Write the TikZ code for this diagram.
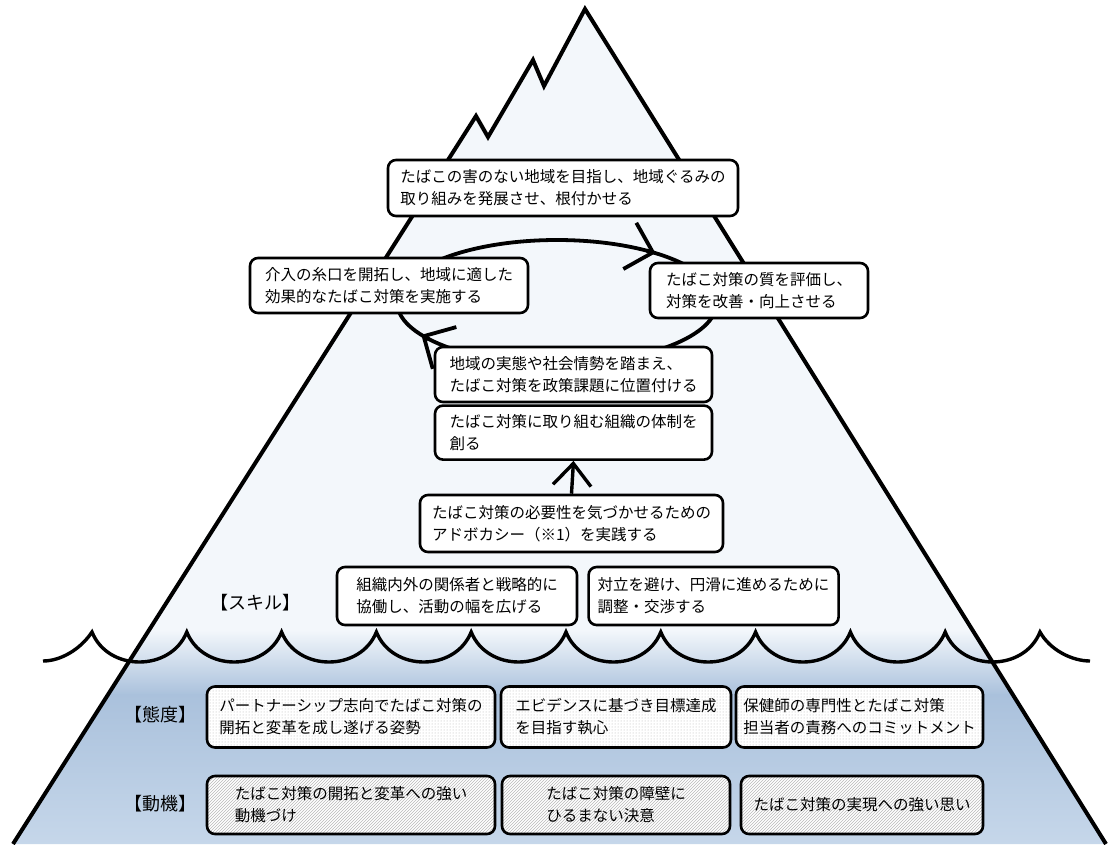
\documentclass[tikz,border=0pt]{standalone}
\usepackage{fontspec}
\newfontfamily\jp{Noto Sans CJK JP}
\usetikzlibrary{positioning,arrows.meta,calc,patterns}

\definecolor{icetop}{HTML}{F3F7FB}
\definecolor{seadeep}{HTML}{AAC1DC}
\definecolor{seabed}{HTML}{C6D7EA}

\begin{document}
\begin{tikzpicture}[x=1pt, y=-1pt,
    box/.style={draw, line width=2.6pt, rounded corners=8pt, fill=white, align=left,
        font=\jp\fontsize{15.5}{22}\selectfont, inner sep=3pt},
    attbox/.style={box, preaction={fill=white}, pattern=dots, pattern color=gray!60},
    motbox/.style={box, preaction={fill=white}, pattern=north east lines, pattern color=gray!55},
    tag/.style={font=\jp\fontsize{18}{20}\selectfont},
    rise/.style={line width=3.4pt, -{Straight Barb[length=22pt,width=38pt]}},
    cyclepath/.style={line width=3.8pt},
    cyclehead/.style={line width=3.8pt, -{Straight Barb[length=24pt,width=48pt]}},
    peak/.style={insert path={(13,844) -- (476,116) -- (488,137) -- (533,60)
        -- (544,86) -- (585,9) -- (1106,844)}},
    wavebody/.style={insert path={.. controls (60,661) and (80,650) .. (92,632)
        \foreach \i in {0,...,9}{ .. controls ({108+94.8*\i},672) and ({170.8+94.8*\i},672)
        .. ({186.8+94.8*\i},632)} .. controls (1050,650) and (1072,661) .. (1090,661)}},
]
\useasboundingbox (0,0) rectangle (1109,844);

% ice above and sea below, inside the mountain
\begin{scope}
  \clip[peak] -- cycle;
  \fill[icetop] (0,0) rectangle (1109,844);
  \shade[top color=icetop, bottom color=seadeep] (0,630) rectangle (1109,695);
  \shade[top color=seadeep, bottom color=seabed] (0,694) rectangle (1109,845);
\end{scope}
\draw[line width=4pt, line join=miter] [peak];

% water line
\draw[line width=3.4pt] (43,661) [wavebody];

% the cycle
\coordinate (loopc) at (557,302);
\draw[cyclepath] (loopc) ellipse [x radius=160, y radius=62];
\coordinate (toptail) at ($(loopc)+(-56:160 and 62)$);
\coordinate (toptip) at ($(loopc)+(-52:160 and 62)$);
\coordinate (lefttail) at ($(loopc)+(143:160 and 62)$);
\coordinate (lefttip) at ($(loopc)+(148:160 and 62)$);
\draw[cyclehead] (toptail) -- (toptip);
\draw[cyclehead] (lefttail) -- (lefttip);

% skills
\node[box, minimum width=350pt, minimum height=56pt] (goal) at (563,188)
  {たばこの害のない地域を目指し、地域ぐるみの\\取り組みを発展させ、根付かせる};
\node[box, minimum width=278pt, minimum height=55pt] (act) at (389,285.5)
  {介入の糸口を開拓し、地域に適した\\効果的なたばこ対策を実施する};
\node[box, minimum width=218pt, minimum height=55pt] (eval) at (759,290.5)
  {たばこ対策の質を評価し、\\対策を改善・向上させる};
\node[box, minimum width=277pt, minimum height=55pt] (policy) at (573.5,374.5)
  {地域の実態や社会情勢を踏まえ、\\たばこ対策を政策課題に位置付ける};
\node[box, minimum width=277pt, minimum height=54pt, below=1pt of policy] (org)
  {たばこ対策に取り組む組織の体制を\\創る};
\node[box, minimum width=303pt, minimum height=57pt] (adv) at (571.5,523.5)
  {たばこ対策の必要性を気づかせるための\\アドボカシー（※1）を実践する};
\node[box, minimum width=240pt, minimum height=58pt] (collab) at (457,596)
  {組織内外の関係者と戦略的に\\協働し、活動の幅を広げる};
\node[box, minimum width=250pt, minimum height=58pt, right=9pt of collab] (negot)
  {対立を避け、円滑に進めるために\\調整・交渉する};

\draw[rise] (adv.north) -- (org.south);

% attitude
\node[attbox, minimum width=288pt, minimum height=61pt] (att1) at (351,717)
  {パートナーシップ志向でたばこ対策の\\開拓と変革を成し遂げる姿勢};
\node[attbox, minimum width=230pt, minimum height=61pt] (att2) at (616,717)
  {エビデンスに基づき目標達成\\を目指す執心};
\node[attbox, minimum width=247pt, minimum height=61pt] (att3) at (859.5,717)
  {保健師の専門性とたばこ対策\\担当者の責務へのコミットメント};

% motivation
\node[motbox, minimum width=288pt, minimum height=58pt] (mot1) at (351,805)
  {たばこ対策の開拓と変革への強い\\動機づけ};
\node[motbox, minimum width=228pt, minimum height=58pt] (mot2) at (616,805)
  {たばこ対策の障壁に\\ひるまない決意};
\node[motbox, minimum width=242pt, minimum height=58pt] (mot3) at (862,805)
  {たばこ対策の実現への強い思い};

% layer labels
\node[tag] (skill) at (255,603) {【スキル】};
\node[tag] (attitude) at (160,715) {【態度】};
\node[tag] (motive) at (160,804) {【動機】};

\end{tikzpicture}
\end{document}
